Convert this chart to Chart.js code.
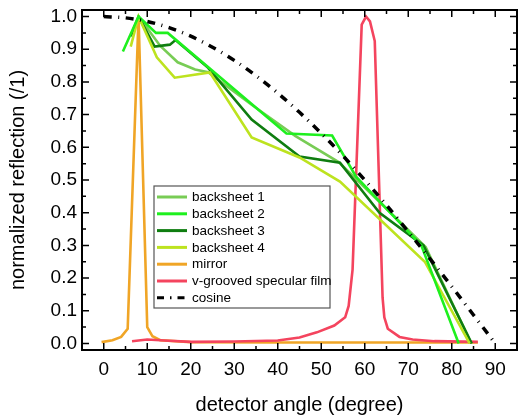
<!DOCTYPE html>
<html>
<head>
<meta charset="utf-8">
<script src="https://cdn.jsdelivr.net/npm/chart.js@4.4.1/dist/chart.umd.min.js"></script>
<style>
  html, body { margin: 0; padding: 0; background: #fff; }
</style>
</head>
<body>
<canvas id="chart" width="518" height="418"></canvas>
<script>
// values (angle in degree, normalized reflection)
const bs1Angle = [8, 13, 17, 21, 24, 34, 44, 54, 64, 74, 84.5];
const bs1Value = [1.0, 0.91, 0.86, 0.838, 0.83, 0.73, 0.635, 0.555, 0.425, 0.295, 0.0];

const bs2Angle = [4.4, 8, 12, 14.7, 42, 52.5, 58, 73, 81.6];
const bs2Value = [0.893, 1.0, 0.95, 0.95, 0.642, 0.636, 0.51, 0.3, 0.0];

const bs3Angle = [6.2, 8, 11.7, 15.2, 16.5, 24, 34, 45, 54.3, 63.4, 73.5, 84.6];
const bs3Value = [0.94, 1.0, 0.908, 0.914, 0.928, 0.843, 0.685, 0.572, 0.553, 0.4, 0.3, 0.0];

const bs4Angle = [6.2, 8, 12.2, 16.3, 24.4, 34, 45, 54.3, 73.8, 84.1];
const bs4Value = [0.908, 1.0, 0.875, 0.813, 0.829, 0.63, 0.569, 0.495, 0.25, 0.0];

const mirrorAngle = [-0.5, 2, 4, 5.5, 8, 10, 11.2, 13, 20, 40, 60, 86];
const mirrorValue = [0.004, 0.01, 0.02, 0.045, 1.0, 0.05, 0.022, 0.01, 0.004, 0.003, 0.003, 0.003];

const filmAngle = [6.5, 10, 14, 20, 30, 40, 45, 49, 53, 55.5, 56.3, 57.2, 59.3, 60.3, 61.2, 62.3, 64.1, 64.5, 65.3, 68, 71, 76, 86];
const filmValue = [0.007, 0.012, 0.009, 0.005, 0.006, 0.009, 0.018, 0.034, 0.055, 0.08, 0.115, 0.226, 0.975, 1.0, 0.985, 0.925, 0.14, 0.08, 0.045, 0.02, 0.012, 0.007, 0.005];

const cosAngle = [0, 5, 10, 15, 20, 25, 30, 35, 40, 45, 50, 55, 60, 65, 70, 75, 80, 85, 90];
const cosValue = [1.0, 0.996, 0.985, 0.966, 0.94, 0.906, 0.866, 0.819, 0.766, 0.707, 0.643, 0.574, 0.5, 0.423, 0.342, 0.259, 0.174, 0.087, 0.0];

const labels = ["backsheet 1", "backsheet 2", "backsheet 3", "backsheet 4", "mirror", "v-grooved specular film", "cosine"];
const colors = ["#78cc55", "#1ef01e", "#0f7d10", "#bde31f", "#f0a526", "#f4445e", "#000000"];

const xTicks = [0, 10, 20, 30, 40, 50, 60, 70, 80, 90];
const xMinor = [5, 15, 25, 35, 45, 55, 65, 75, 85];
const yTicks = [0, 0.1, 0.2, 0.3, 0.4, 0.5, 0.6, 0.7, 0.8, 0.9, 1.0];
const yMinor = [0.05, 0.15, 0.25, 0.35, 0.45, 0.55, 0.65, 0.75, 0.85, 0.95];

const FONT = "'Liberation Sans', Arial, sans-serif";
Chart.defaults.font.family = FONT;
Chart.defaults.color = "#000";

function pts(xs, ys) {
  return xs.map((v, i) => ({ x: v, y: ys[i] }));
}

const series = [
  pts(bs1Angle, bs1Value),
  pts(bs2Angle, bs2Value),
  pts(bs3Angle, bs3Value),
  pts(bs4Angle, bs4Value),
  pts(mirrorAngle, mirrorValue),
  pts(filmAngle, filmValue),
  pts(cosAngle, cosValue)
];

const datasets = series.map((d, i) => ({
  label: labels[i],
  data: d,
  borderColor: colors[i],
  backgroundColor: colors[i],
  borderWidth: i === 6 ? 3.5 : 2.6,
  borderDash: i === 6 ? [8, 6.5, 1, 6.5] : [],
  cubicInterpolationMode: i === 6 ? "monotone" : "default",
  pointRadius: 0,
  fill: false
}));
// draw the cosine on top, greens above mirror/film
const order = [4, 5, 0, 2, 3, 1, 6];
datasets.forEach((ds, i) => { ds.order = order.length - order.indexOf(i); });

// frame + inward ticks on all four sides
const frameTicks = {
  id: "frameTicks",
  afterDatasetsDraw(chart) {
    const { ctx, chartArea: a, scales: { x, y } } = chart;
    ctx.save();
    ctx.strokeStyle = "#000";
    ctx.lineWidth = 1.5;
    ctx.beginPath();
    const vt = (p, len) => {
      ctx.moveTo(p, a.bottom); ctx.lineTo(p, a.bottom - len);
      ctx.moveTo(p, a.top); ctx.lineTo(p, a.top + len);
    };
    const ht = (p, len) => {
      ctx.moveTo(a.left, p); ctx.lineTo(a.left + len, p);
      ctx.moveTo(a.right, p); ctx.lineTo(a.right - len, p);
    };
    xTicks.forEach(v => vt(x.getPixelForValue(v), 7));
    xMinor.forEach(v => vt(x.getPixelForValue(v), 4));
    yTicks.forEach(v => ht(y.getPixelForValue(v), 7));
    yMinor.forEach(v => ht(y.getPixelForValue(v), 4));
    ctx.stroke();
    ctx.lineWidth = 2;
    ctx.strokeRect(a.left, a.top, a.right - a.left, a.bottom - a.top);
    ctx.restore();
  }
};

// boxed legend inside the plot
const boxLegend = {
  id: "boxLegend",
  afterDraw(chart) {
    const { ctx, chartArea: a } = chart;
    const left = a.left + 72, top = a.top + 176, w = 176, h = 122;
    const rowH = 16.8;
    ctx.save();
    ctx.fillStyle = "#fff";
    ctx.fillRect(left, top, w, h);
    ctx.strokeStyle = "#555";
    ctx.lineWidth = 1.2;
    ctx.strokeRect(left, top, w, h);
    ctx.font = "13.5px " + FONT;
    ctx.textBaseline = "middle";
    chart.data.datasets.forEach((ds, i) => {
      const cy = top + 11 + i * rowH;
      ctx.strokeStyle = ds.borderColor;
      ctx.lineWidth = 3;
      ctx.setLineDash(ds.borderDash.length ? [7, 6, 1.5, 6] : []);
      ctx.beginPath();
      ctx.moveTo(left + 3, cy);
      ctx.lineTo(left + 33, cy);
      ctx.stroke();
      ctx.setLineDash([]);
      ctx.fillStyle = "#000";
      ctx.fillText(ds.label, left + 38, cy + 0.5);
    });
    ctx.restore();
  }
};

new Chart(document.getElementById("chart"), {
  type: "line",
  data: { datasets },
  options: {
    responsive: false,
    animation: false,
    layout: { padding: { top: 10, right: 1, left: 0, bottom: 0 } },
    plugins: { legend: { display: false }, tooltip: { enabled: false } },
    scales: {
      x: {
        type: "linear",
        min: -5,
        max: 95,
        afterBuildTicks: s => { s.ticks = xTicks.map(v => ({ value: v })); },
        afterFit: s => { s.height = 68; s.paddingLeft = 0; s.paddingRight = 0; },
        grid: { display: false, drawTicks: false },
        border: { display: false },
        ticks: { font: { size: 19 }, padding: 8, maxRotation: 0, autoSkip: false },
        title: { display: true, text: "detector angle (degree)", font: { size: 20 }, padding: { top: 0, bottom: 1 } }
      },
      y: {
        type: "linear",
        min: -0.02,
        max: 1.02,
        afterBuildTicks: s => { s.ticks = yTicks.map(v => ({ value: v })); },
        afterFit: s => { s.width = 82; s.paddingTop = 0; s.paddingBottom = 0; },
        grid: { display: false, drawTicks: false },
        border: { display: false },
        ticks: { font: { size: 19 }, padding: 5, autoSkip: false, callback: v => v.toFixed(1) },
        title: { display: true, text: "normalized reflection (/1)", font: { size: 20 }, padding: { top: 6, bottom: 0 } }
      }
    }
  },
  plugins: [frameTicks, boxLegend]
});
</script>
</body>
</html>
